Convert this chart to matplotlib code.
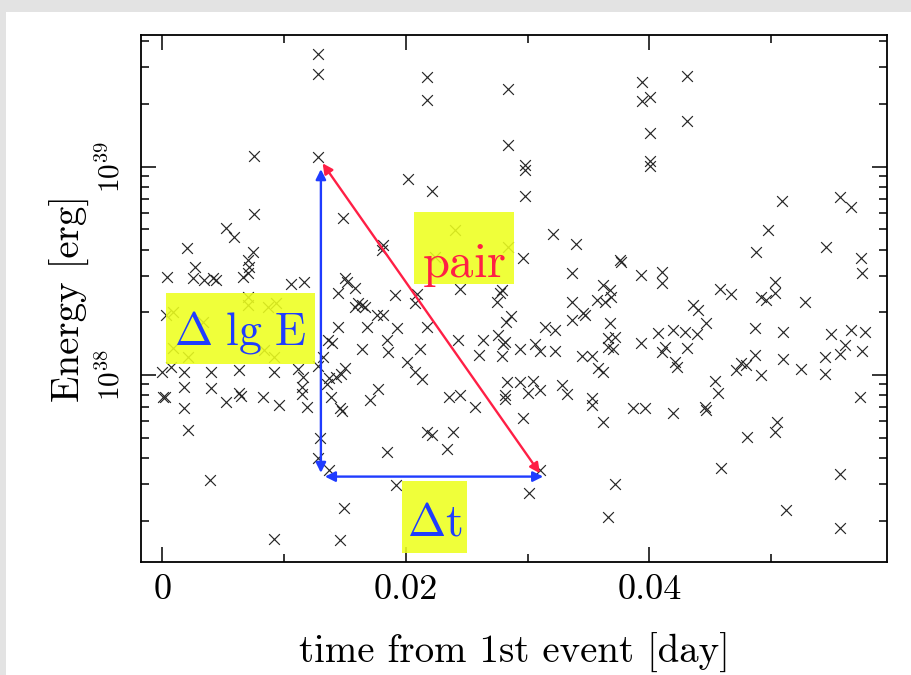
import matplotlib
matplotlib.use('Agg')
import matplotlib.pyplot as plt
from matplotlib.patches import Rectangle
from matplotlib.ticker import MultipleLocator, LogLocator, NullFormatter
import numpy as np

plt.rcParams['font.family'] = ['cmr10', 'DejaVu Serif']
plt.rcParams['mathtext.fontset'] = 'cm'
plt.rcParams['axes.formatter.use_mathtext'] = True

# 事件時間 (day) 與 lg E (erg)
t_day = [
    0.01275, 0.01275, 0.02170, 0.02170, 0.02840, 0.02840, 0.00755, 0.01275, 0.02019, 0.02216,
    0.01485, 0.00755, 0.02977, 0.02977, 0.02977, 0.03939, 0.03939, 0.04003, 0.04003, 0.04003,
    0.04003, 0.04304, 0.04304, 0.05088, 0.05562, 0.05658, 0.00523, 0.00591, 0.00203, 0.00742,
    0.00701, 0.00268, 0.00714, 0.00039, 0.00250, 0.00345, 0.00414, 0.00441, 0.00660, 0.00701,
    0.01056, 0.01163, 0.01809, 0.01801, 0.01499, 0.01513, 0.01581, 0.01444, 0.01910, 0.02088,
    0.02238, 0.02402, 0.03204, 0.03395, 0.02840, 0.02963, 0.03360, 0.02443, 0.02785, 0.02771,
    0.03565, 0.03360, 0.03756, 0.03770, 0.03934, 0.04099, 0.04099, 0.03619, 0.03674, 0.03688,
    0.04577, 0.04673, 0.04973, 0.04878, 0.05453, 0.05740, 0.05748, 0.05028, 0.05028, 0.04919,
    0.04960, 0.03633, 0.01606, 0.01639, 0.01581, 0.01664, 0.02074, 0.01760, 0.01814, 0.01444,
    0.01678, 0.01924, 0.02170, 0.01362, 0.01390, 0.01636, 0.01842, 0.01855, 0.02115, 0.02006,
    0.02074, 0.02129, 0.01319, 0.01278, 0.01499, 0.01467, 0.01426, 0.01368, 0.01352, 0.01385,
    0.01458, 0.01475, 0.01188, 0.01147, 0.01147, 0.01773, 0.01705, 0.02353, 0.02443, 0.02566,
    0.02429, 0.02634, 0.02599, 0.02785, 0.02758, 0.02813, 0.02799, 0.02744, 0.02862, 0.02821,
    0.03141, 0.03223, 0.03360, 0.03455, 0.03469, 0.02936, 0.03059, 0.03100, 0.03223, 0.03442,
    0.03524, 0.03578, 0.03619, 0.02826, 0.02813, 0.02813, 0.02936, 0.03042, 0.03004, 0.03100,
    0.03278, 0.03319, 0.03524, 0.03524, 0.02963, 0.03674, 0.03660, 0.03715, 0.03660, 0.03701,
    0.03934, 0.04071, 0.04194, 0.04290, 0.04386, 0.04468, 0.04358, 0.04399, 0.04126, 0.04099,
    0.04304, 0.04208, 0.04222, 0.04714, 0.04755, 0.04796, 0.04536, 0.04563, 0.03865, 0.03961,
    0.04194, 0.04454, 0.04462, 0.03619, 0.05275, 0.04864, 0.05096, 0.05494, 0.05658, 0.05767,
    0.05603, 0.05562, 0.05748, 0.05439, 0.04864, 0.05096, 0.05247, 0.04919, 0.05439, 0.05726,
    0.05045, 0.05028, 0.04801, 0.00701, 0.00701, 0.00865, 0.00933, 0.00085, 0.00030, 0.00332,
    0.00085, 0.00209, 0.00837, 0.00919, 0.00000, 0.00071, 0.00181, 0.00400, 0.00632, 0.00919,
    0.01114, 0.01155, 0.00181, 0.00400, 0.00632, 0.00646, 0.00003, 0.00022, 0.00523, 0.00824,
    0.00960, 0.00181, 0.00209, 0.00392, 0.00917, 0.01458, 0.01491, 0.01916, 0.01842, 0.01294,
    0.01275, 0.01368, 0.02170, 0.02211, 0.02388, 0.02339, 0.04583, 0.03715, 0.03660, 0.05562,
    0.05119, 0.05562, 0.03009, 0.03100,
]
lg_E = [
    39.540, 39.444, 39.432, 39.320, 39.372, 39.104, 39.053, 39.047, 38.941, 38.885,
    38.752, 38.773, 39.008, 38.984, 38.861, 39.405, 39.315, 39.333, 39.163, 39.029,
    39.005, 39.437, 39.221, 38.835, 38.856, 38.808, 38.707, 38.664, 38.611, 38.592,
    38.552, 38.520, 38.520, 38.472, 38.464, 38.456, 38.464, 38.456, 38.472, 38.488,
    38.435, 38.445, 38.624, 38.600, 38.464, 38.448, 38.419, 38.392, 38.384, 38.387,
    38.568, 38.696, 38.676, 38.628, 38.616, 38.560, 38.488, 38.413, 38.408, 38.392,
    38.360, 38.352, 38.552, 38.544, 38.480, 38.496, 38.440, 38.432, 38.408, 38.376,
    38.413, 38.389, 38.696, 38.589, 38.616, 38.563, 38.488, 38.448, 38.392, 38.376,
    38.360, 38.351, 38.346, 38.336, 38.327, 38.327, 38.344, 38.288, 38.288, 38.232,
    38.232, 38.227, 38.232, 38.168, 38.152, 38.125, 38.168, 38.112, 38.125, 38.064,
    38.016, 37.981, 38.086, 38.043, 38.034, 38.005, 37.990, 37.986, 37.957, 37.894,
    37.840, 37.827, 37.846, 37.942, 37.909, 37.933, 37.880, 37.892, 37.904, 37.848,
    38.168, 38.168, 38.094, 38.093, 38.192, 38.160, 38.147, 38.352, 38.283, 38.254,
    38.232, 38.216, 38.264, 38.296, 38.288, 38.125, 38.147, 38.115, 38.115, 38.093,
    38.093, 38.032, 38.012, 37.968, 37.904, 37.885, 37.968, 37.971, 37.912, 37.928,
    37.952, 37.907, 37.888, 37.856, 37.795, 38.251, 38.176, 38.184, 38.136, 38.125,
    38.152, 38.200, 38.216, 38.208, 38.195, 38.248, 38.336, 38.312, 38.136, 38.112,
    38.131, 38.064, 38.040, 38.024, 38.056, 38.048, 37.971, 37.915, 37.843, 37.843,
    37.816, 37.848, 37.832, 37.773, 38.349, 38.224, 38.208, 38.195, 38.216, 38.208,
    38.144, 38.099, 38.115, 38.088, 38.096, 38.075, 38.029, 38.000, 38.003, 37.896,
    37.772, 37.728, 37.704, 38.376, 38.336, 38.328, 38.344, 38.304, 38.288, 38.256,
    38.128, 38.088, 38.120, 38.088, 38.016, 38.040, 38.016, 38.016, 38.024, 38.016,
    38.029, 37.990, 37.941, 37.936, 37.912, 37.901, 37.896, 37.896, 37.872, 37.896,
    37.856, 37.843, 37.736, 37.496, 37.211, 37.208, 37.363, 37.473, 37.630, 37.696,
    37.603, 37.544, 37.728, 37.712, 37.728, 37.645, 37.555, 37.477, 37.320, 37.525,
    37.352, 37.267, 37.435, 37.544,
]

x_major = [0, 0.02, 0.04]
x_labels = ['0', '0.02', '0.04']
y_major = [1e38, 1e39]
y_labels = [r'$10^{38}$', r'$10^{39}$']

# 一對事件：(t, lgE) 起點與終點
pair_a = (0.01316, 39.016)
pair_b = (0.03100, 37.528)

energy = np.power(10.0, np.array(lg_E))

fig = plt.figure(figsize=(9.11, 6.75), dpi=100)
fig.patch.set_facecolor('#e3e3e3')
fig.add_artist(Rectangle((6 / 911, 0), 1, 663 / 675, transform=fig.transFigure,
                         facecolor='white', edgecolor='none', zorder=-1))

ax = fig.add_axes([141 / 911, 113 / 675, 746 / 911, 527 / 675])
ax.scatter(t_day, energy, marker='x', s=60, linewidths=0.85, color='#262626', zorder=2)

ax.set_yscale('log')
ax.set_xlim(-0.00175, 0.0595)
ax.set_ylim(10 ** 37.102, 10 ** 39.632)

ax.set_xticks(x_major, labels=x_labels)
ax.xaxis.set_minor_locator(MultipleLocator(0.01))
ax.set_yticks(y_major, labels=y_labels)
ax.yaxis.set_minor_locator(LogLocator(base=10, subs=np.arange(2, 10)))
ax.yaxis.set_minor_formatter(NullFormatter())

ax.tick_params(which='both', direction='in', top=True, right=True, width=1.1, color='black')
ax.tick_params(which='major', length=11)
ax.tick_params(which='minor', length=5.5)
ax.tick_params(axis='x', labelsize=26, pad=9)
ax.tick_params(axis='y', labelsize=21, pad=11)
for lab in ax.get_yticklabels():
    lab.set_rotation(90)
    lab.set_va('center')
for s in ax.spines.values():
    s.set_linewidth(1.3)

ax.set_xlabel('time from 1st event [day]', fontsize=28, va='center')
ax.xaxis.set_label_coords(0.5, -0.1727)
ax.set_ylabel('Energy [erg]', fontsize=28)
ax.yaxis.set_label_coords(-0.068, 0.5)

# 箭頭
blue = '#1f3cff'
red = '#ff1f45'
arrow_kw = dict(arrowstyle='<|-|>', lw=1.7, mutation_scale=15, shrinkA=0, shrinkB=0)
x0 = pair_a[0] - 0.00014
ax.annotate('', xy=(x0, 10 ** 38.988), xytext=(x0, 10 ** 37.530),
            arrowprops=dict(color=blue, **arrow_kw), zorder=4)
ax.annotate('', xy=(0.01335, 10 ** 37.512), xytext=(0.03127, 10 ** 37.512),
            arrowprops=dict(color=blue, **arrow_kw), zorder=4)
ax.annotate('', xy=(pair_a[0], 10 ** pair_a[1]), xytext=(pair_b[0], 10 ** pair_b[1]),
            arrowprops=dict(color=red, **arrow_kw), zorder=4)

# 黃色標籤框
yellow = (0.93, 1.0, 0.12, 0.88)
boxes = [
    ((0.0335, 0.3751), 0.1997, 0.1348, r'$\Delta\ \mathrm{lg\ E}$', blue, 0.1334, 0.413, 33),
    ((0.3660, 0.5275), 0.1340, 0.1372, r'$\mathrm{pair}$', red, 0.433, 0.5414, 35),
    ((0.3503, 0.0176), 0.0863, 0.1361, r'$\Delta\mathrm{t}$', blue, 0.3935, 0.0512, 33),
]
for xy, w, h, txt, col, tx, ty, fs in boxes:
    ax.add_patch(Rectangle(xy, w, h, transform=ax.transAxes, facecolor=yellow,
                           edgecolor='none', zorder=3))
    ax.text(tx, ty, txt, transform=ax.transAxes, ha='center', va='baseline',
            fontsize=fs, color=col, zorder=5)

fig.savefig('out.png', dpi=100, facecolor=fig.get_facecolor())
